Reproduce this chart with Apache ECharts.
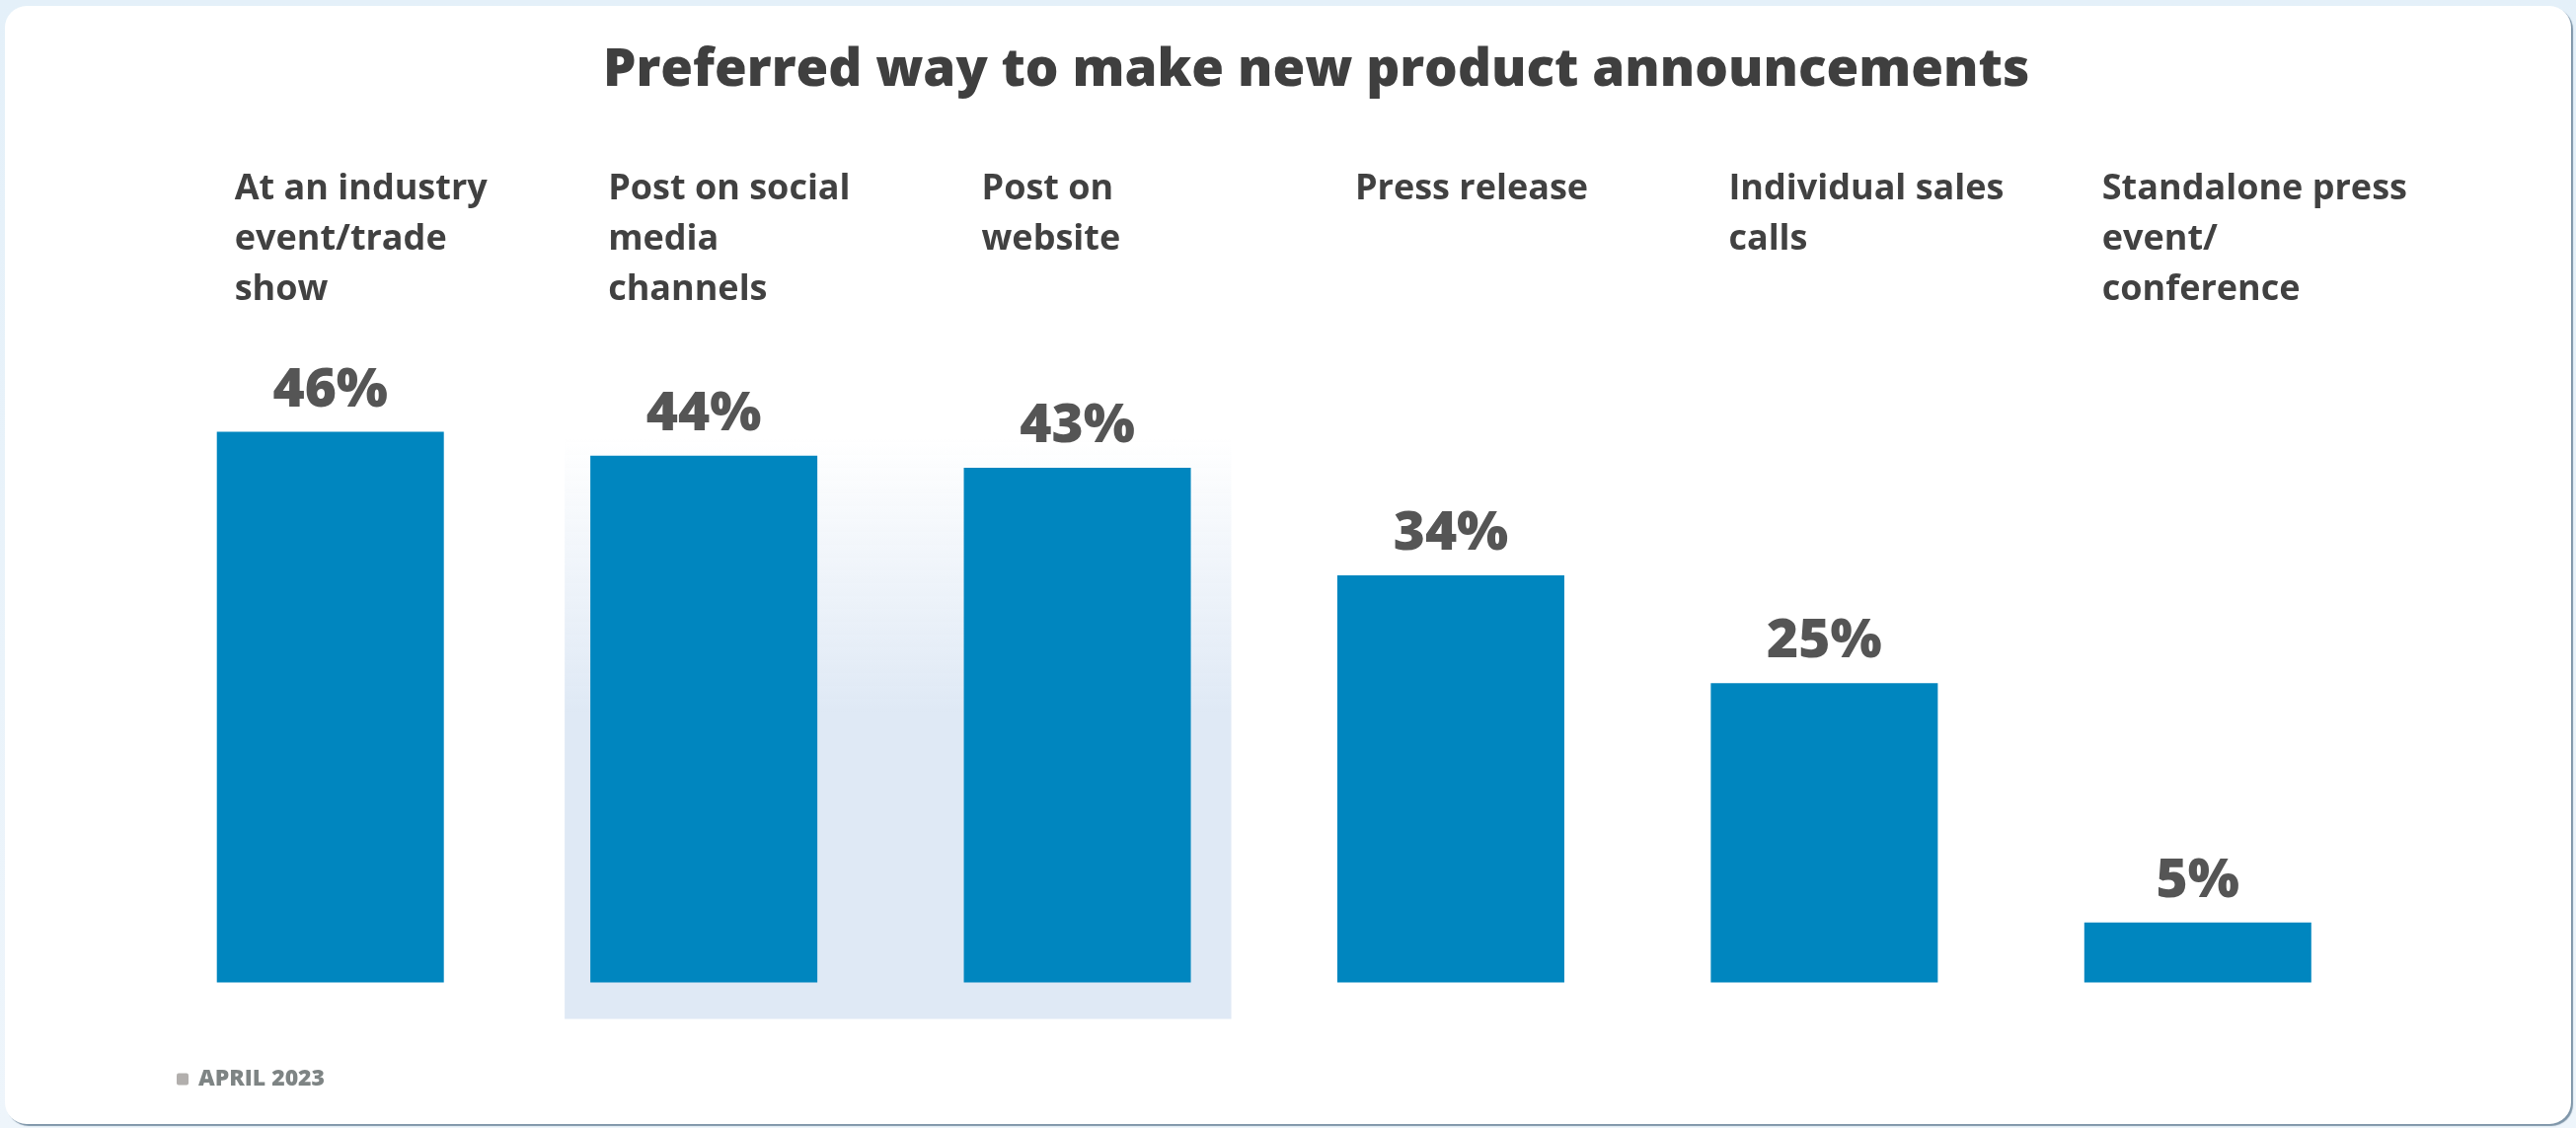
<!DOCTYPE html>
<html>
<head>
<meta charset="utf-8">
<title>Preferred way to make new product announcements</title>
<script src="https://cdn.jsdelivr.net/npm/echarts@6/dist/echarts.min.js"></script>
<style>
  html, body { margin: 0; padding: 0; width: 2610px; height: 1143px; overflow: hidden;
    background: linear-gradient(180deg, #e4f0f9 0%, #eef5fb 100%); }
  #card { position: absolute; left: 5px; top: 6px; width: 2600px; height: 1133px;
    background: #ffffff; border-radius: 22px; box-shadow: 2px 2px 1px #7e95a8; }
  #chart { position: absolute; left: 0; top: 0; width: 2610px; height: 1143px; }
</style>
</head>
<body>
<div id="card"></div>
<div id="chart"></div>
<script>
// Survey answers, in display order
const categories = [
  'At an industry\nevent/trade\nshow',
  'Post on social\nmedia\nchannels',
  'Post on\nwebsite',
  'Press release',
  'Individual sales\ncalls',
  'Standalone press\nevent/\nconference'
];
// Share of respondents (%)
const shares = [46, 44, 43, 34, 25, 5];
// Answers grouped under the shaded backdrop
const highlighted = [1, 2];
const titleText = 'Preferred way to make new product announcements';
const footnote = 'APRIL 2023';

const BAR_WIDTH = 230;
const FONT = '"Open Sans", Lato, sans-serif';

const chart = echarts.init(document.getElementById('chart'), null, { renderer: 'canvas' });

const option = {
  backgroundColor: 'transparent',
  animation: false,
  title: [
    {
      text: titleText,
      left: 611,
      top: 42,
      padding: 0,
      textStyle: { fontFamily: FONT, fontWeight: 800, fontSize: 53, color: '#3f3f3f', lineHeight: 60 }
    },
    {
      text: '{sq|}  {t|' + footnote + '}',
      left: 179,
      top: 1082,
      padding: 0,
      textStyle: {
        rich: {
          sq: { width: 12, height: 12, backgroundColor: '#b2afad', borderRadius: 2 },
          t: { fontFamily: FONT, fontWeight: 800, fontSize: 23, color: '#7e8484' }
        }
      }
    }
  ],
  grid: { left: 145.5, right: 194, top: 389, bottom: 147.5, containLabel: false },
  xAxis: {
    type: 'category',
    position: 'top',
    data: categories,
    axisLine: { show: false },
    axisTick: { show: false },
    axisLabel: {
      interval: 0,
      margin: 223,
      verticalAlign: 'top',
      formatter: v => '{c|' + v + '}',
      rich: {
        c: {
          width: 194,
          align: 'left',
          fontFamily: FONT,
          fontWeight: 700,
          fontSize: 36,
          lineHeight: 51,
          color: '#414141'
        }
      }
    }
  },
  yAxis: {
    type: 'value',
    min: 0,
    max: 50,
    show: false,
    splitLine: { show: false }
  },
  series: [
    {
      type: 'bar',
      data: shares,
      barWidth: BAR_WIDTH,
      z: 3,
      itemStyle: { color: '#0086bf' },
      label: {
        show: true,
        position: 'top',
        distance: 14,
        formatter: p => p.value + '%',
        fontFamily: FONT,
        fontWeight: 800,
        fontSize: 55,
        lineHeight: 55,
        color: '#555555'
      }
    }
  ]
};

chart.setOption(option);

// Shaded backdrop behind the highlighted answers, placed from the axis scales
function placeBackdrop() {
  const first = highlighted[0];
  const last = highlighted[highlighted.length - 1];
  const pFirst = chart.convertToPixel({ gridIndex: 0 }, [first, 0]);
  const pLast = chart.convertToPixel({ gridIndex: 0 }, [last, 0]);
  const topVal = Math.max.apply(null, highlighted.map(i => shares[i]));
  const pTop = chart.convertToPixel({ gridIndex: 0 }, [first, topVal]);
  const x0 = pFirst[0] - BAR_WIDTH / 2 - 26;
  const x1 = pLast[0] + BAR_WIDTH / 2 + 41;
  const y0 = pTop[1] - 17;
  const y1 = pFirst[1] + 37;
  chart.setOption({
    graphic: [{
      type: 'rect',
      id: 'backdrop',
      z: 1,
      silent: true,
      shape: { x: x0, y: y0, width: x1 - x0, height: y1 - y0 },
      style: {
        fill: new echarts.graphic.LinearGradient(0, 0, 0, 1, [
          { offset: 0, color: 'rgba(223,233,245,0)' },
          { offset: 0.47, color: '#dfe9f5' },
          { offset: 1, color: '#dfe9f5' }
        ])
      }
    }]
  });
}
placeBackdrop();
</script>
</body>
</html>
